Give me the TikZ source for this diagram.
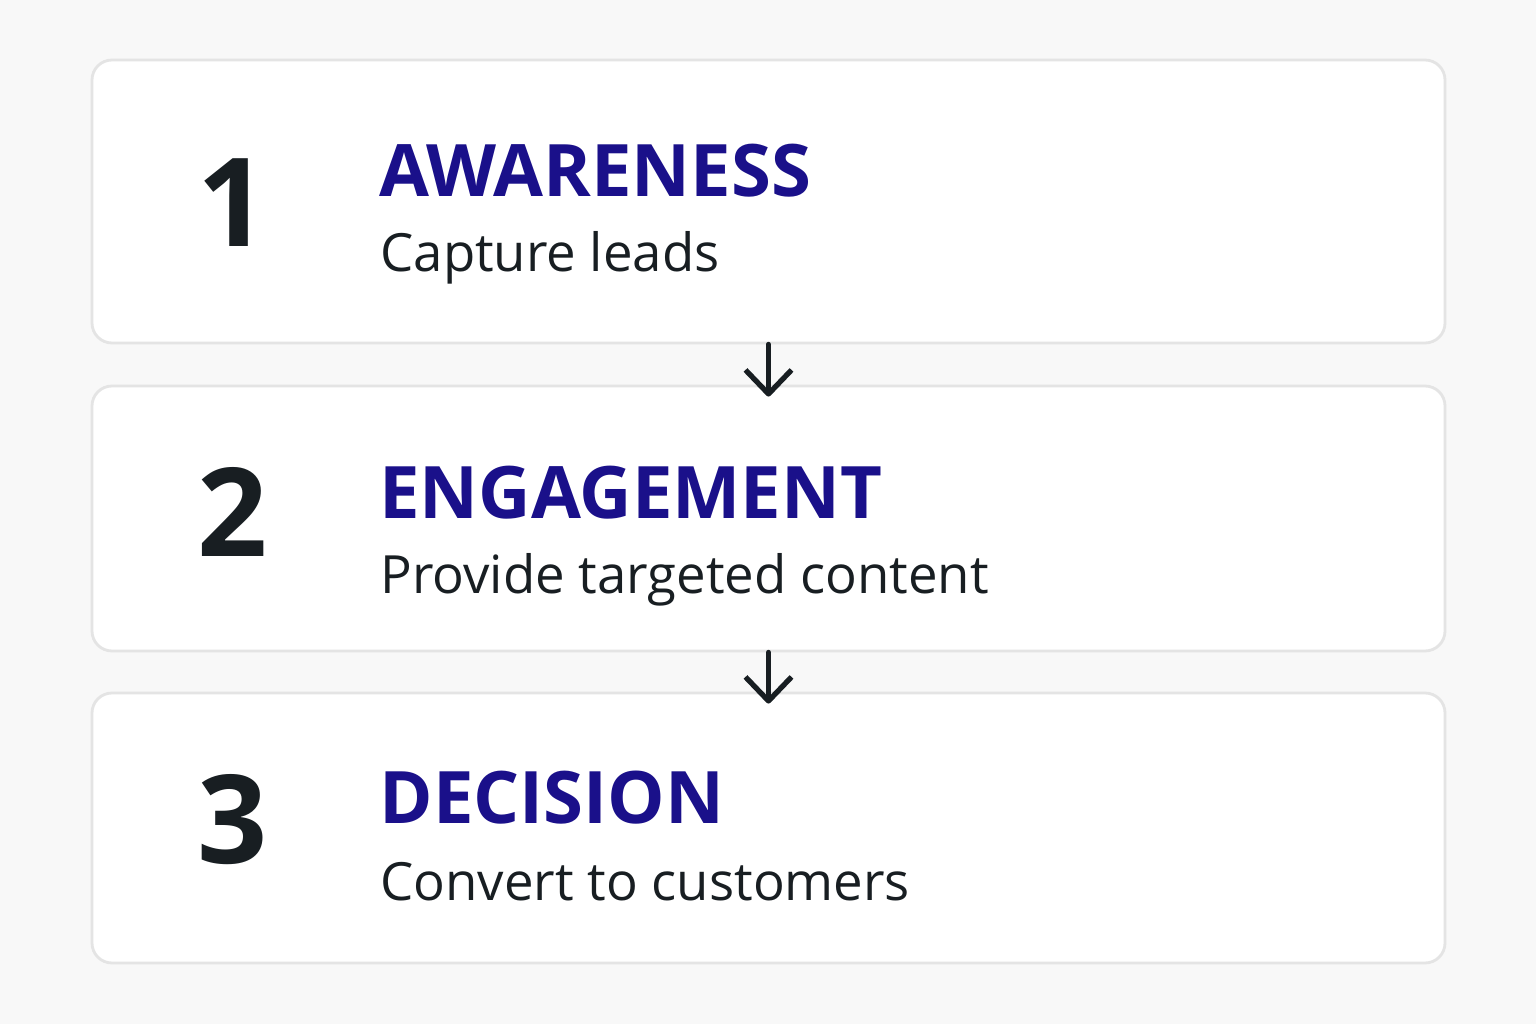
\documentclass[tikz,border=0pt]{standalone}
\usepackage{fontspec}
\setmainfont{Open Sans}
\usetikzlibrary{arrows.meta}
\definecolor{bg}{RGB}{248,248,248}
\definecolor{edge}{RGB}{228,228,228}
\definecolor{ink}{RGB}{24,30,34}
\definecolor{navy}{RGB}{26,16,138}

\begin{document}
\begin{tikzpicture}[
		stage/.style={draw=edge, fill=white, line width=0.8pt, rounded corners=0.2cm, minimum width=13.53cm, inner sep=0pt},
		num/.style={anchor=base, text=ink, font=\fontsize{35}{35}\selectfont\bfseries},
		head/.style={anchor=base west, text=navy, font=\fontsize{20.6}{21}\selectfont\bfseries},
		sub/.style={anchor=base west, text=ink, font=\fontsize{15}{16}\selectfont},
		arrow/.style={draw=ink, line width=1.5pt, line cap=round, -{Straight Barb[length=2.4mm, width=4.6mm, line join=round]}}
	]

	% background
	\fill[bg] (0, 0) rectangle (15.36, 10.24);

	% stages
	\foreach \n/\t/\s/\yc/\h/\yn/\yt/\ys in {
		1/AWARENESS/Capture leads/8.225/2.83/7.77/8.27/7.52,
		2/ENGAGEMENT/Provide targeted content/5.055/2.65/4.68/5.06/4.31,
		3/DECISION/Convert to customers/1.96/2.70/1.61/2.01/1.24} {
		\node[stage, minimum height=\h cm] (stage-\n) at (7.685, \yc) {};
		\node[num] (num-\n) at (2.33, \yn) {\n};
		\node[head] (head-\n) at (3.67, \yt) {\t};
		\node[sub] (sub-\n) at (3.68, \ys) {\s};
	}

	% flow
	\draw[arrow] (stage-1.south) -- ([yshift=-0.12cm]stage-2.north);
	\draw[arrow] (stage-2.south) -- ([yshift=-0.12cm]stage-3.north);

\end{tikzpicture}
\end{document}
